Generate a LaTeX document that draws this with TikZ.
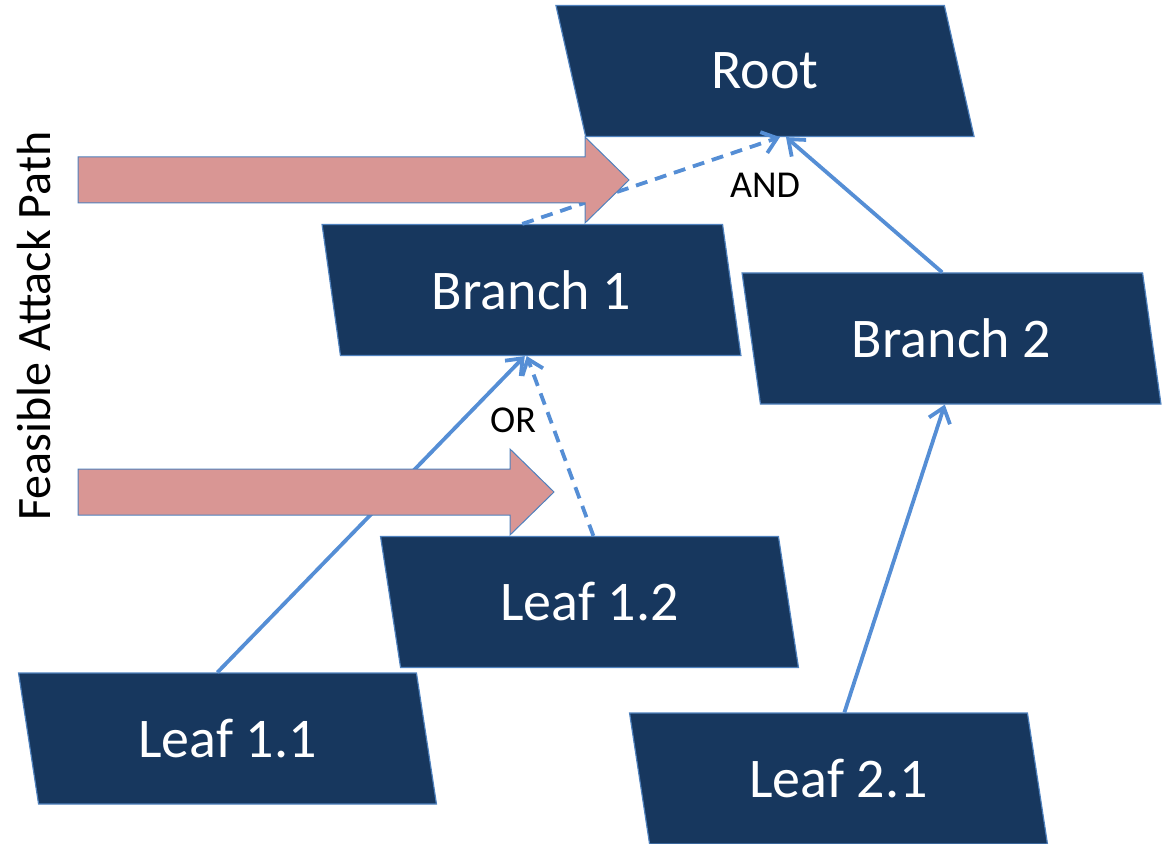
\documentclass[tikz,border=0pt]{standalone}
\usepackage{fontspec}
\setmainfont{Carlito}
\usetikzlibrary{shapes.geometric,arrows.meta}
\definecolor{navy}{RGB}{23,55,94}
\definecolor{rim}{RGB}{79,129,189}
\definecolor{linkblue}{RGB}{85,142,213}
\definecolor{attackpink}{RGB}{217,150,148}

\begin{document}
\begin{tikzpicture}[x=0.5pt,y=-0.5pt,
  box/.style={trapezium, trapezium left angle=103.7, trapezium right angle=76.3,
    trapezium stretches=true, minimum width=209.5pt, minimum height=65.5pt,
    inner sep=0pt, fill=navy, draw=rim, line width=0.6pt, text=white,
    font=\fontsize{28}{30}\selectfont},
  link/.style={draw=linkblue, line width=1.9pt, ->,
    >={Straight Barb[length=7pt,width=11pt]}},
  gap/.style={dash pattern=on 6pt off 4pt},
  gate/.style={font=\fontsize{19}{21}\selectfont},
  attack/.style={fill=attackpink, draw=rim, line width=0.5pt}]

  \useasboundingbox (0,0) rectangle (1170,844);

  % tree
  \node[box] (root) at (765,71) {Root};
  \node[box] (b1) at (531.5,290) {Branch 1};
  \node[box] (b2) at (951.5,338.5) {Branch 2};
  \node[box] (l12) at (589.5,602) {Leaf 1.2};
  \node[box] (l11) at (227.5,738.5) {Leaf 1.1};
  \node[box] (l21) at (838.5,778.5) {Leaf 2.1};

  \draw[link,gap] (b1.top side) -- (root.bottom side); %% B1->Root
  \draw[link] (b2.top side) -- ([xshift=3pt]root.bottom side); %% B2->Root
  \draw[link] (l11.top side) -- ([xshift=-8pt]b1.bottom side); %% L11->B1
  \draw[link,gap] ([xshift=7pt]l12.top side) --
  ([xshift=-7pt]b1.bottom side); %% L12->B1
  \draw[link] ([xshift=8pt]l21.top side) --
  ([xshift=-8pt]b2.bottom side); %% L21->B2

  \node[gate] (and) at (765,185) {AND};
  \node[gate] (or) at (513,420) {OR};

  % attack path
  \foreach \ya/\xa in {180/585, 492/510}
    \draw[attack] (78,\ya-23) -- (\xa,\ya-23) -- (\xa,\ya-43) -- (\xa+44,\ya)
    -- (\xa,\ya+43) -- (\xa,\ya+23) -- (78,\ya+23) -- cycle;

  \node[rotate=90, inner sep=0pt, font=\fontsize{24}{26}\selectfont]
  (feasible) at (34,326) {Feasible Attack Path};

\end{tikzpicture}
\end{document}
